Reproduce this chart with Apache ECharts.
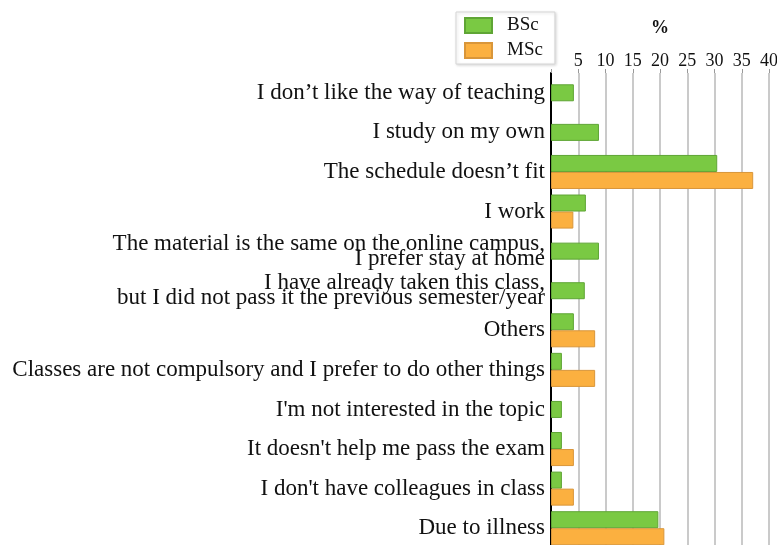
<!DOCTYPE html>
<html>
<head>
<meta charset="utf-8">
<script src="https://cdn.jsdelivr.net/npm/echarts@6/dist/echarts.min.js"></script>
<style>
	body { margin: 0; background: #fff; }
	#main { width: 777px; height: 545px; }
</style>
</head>
<body>
<div id="main"></div>
<script>
	// categories top to bottom
	var reasons = [
		'I don\u2019t like the way of teaching',
		'I study on my own',
		'The schedule doesn\u2019t fit',
		'I work',
		'The material is the same on the online campus,\nI prefer stay at home',
		'I have already taken this class,\nbut I did not pass it the previous semester/year',
		'Others',
		'Classes are not compulsory and I prefer to do other things',
		'I\'m not interested in the topic',
		'It doesn\'t help me pass the exam',
		'I don\'t have colleagues in class',
		'Due to illness'
	];
	var bsc = [4.2, 8.8, 30.5, 6.4, 8.8, 6.2, 4.2, 2.0, 2.0, 2.0, 2.0, 19.7];
	var msc = [null, null, 37.1, 4.1, null, null, 8.1, 8.1, null, 4.2, 4.2, 20.8];
	var xTicks = [5, 10, 15, 20, 25, 30, 35, 40];

	// rows with only BSc are drawn centred on a second (hidden) axis
	var bscPaired = [];
	var bscSingle = [];
	for (var i = 0; i < bsc.length; i++) {
		if (msc[i] == null) {
			bscPaired.push(null);
			bscSingle.push(bsc[i]);
		} else {
			bscPaired.push(bsc[i]);
			bscSingle.push(null);
		}
	}

	var green = '#7ac943';
	var orange = '#fbb040';
	var serif = '"Liberation Serif", "DejaVu Serif", serif';

	var option = {
		animation: false,
		textStyle: { fontFamily: serif },
		legend: {
			data: ['BSc', 'MSc'],
			orient: 'vertical',
			left: 456,
			top: 12,
			padding: [4, 12, 4, 8],
			itemGap: 6,
			itemWidth: 27,
			itemHeight: 15,
			icon: 'rect',
			borderColor: '#d6d6d6',
			borderWidth: 1,
			shadowColor: 'rgba(0,0,0,0.15)',
			shadowBlur: 3,
			shadowOffsetX: 1,
			shadowOffsetY: 1,
			backgroundColor: '#fff',
			textStyle: { fontFamily: serif, fontSize: 19, color: '#111', padding: [0, 0, 0, 10] }
		},
		grid: {
			left: 551,
			right: 8,
			top: 73,
			height: 475,
			outerBoundsMode: 'none'
		},
		xAxis: {
			type: 'value',
			position: 'top',
			min: 0,
			max: 40,
			interval: 5,
			name: '%',
			nameLocation: 'middle',
			nameGap: 36,
			nameTextStyle: { fontFamily: serif, fontSize: 18, fontWeight: 'bold', color: '#111' },
			axisLine: { show: false },
			axisTick: { show: true, length: 4, lineStyle: { color: '#999' } },
			axisLabel: {
				fontFamily: serif,
				fontSize: 18,
				color: '#111',
				margin: 3,
				formatter: function (v) {
					return xTicks.indexOf(v) >= 0 ? String(v) : '';
				}
			},
			splitLine: { show: true, lineStyle: { color: '#b8b8b8', width: 1.5 } }
		},
		yAxis: [{
			type: 'category',
			inverse: true,
			data: reasons,
			axisLine: { show: true, lineStyle: { color: '#000', width: 2 } },
			axisTick: { show: false },
			axisLabel: {
				fontFamily: serif,
				fontSize: 23,
				color: '#111',
				margin: 6,
				lineHeight: 15
			}
		}, {
			type: 'category',
			inverse: true,
			data: reasons,
			show: false
		}],
		series: [{
			name: 'BSc',
			type: 'bar',
			yAxisIndex: 0,
			data: bscPaired,
			barGap: '0%',
			barCategoryGap: '14%',
			itemStyle: { color: green, borderColor: '#5fa535', borderWidth: 1 }
		}, {
			name: 'MSc',
			type: 'bar',
			yAxisIndex: 0,
			data: msc,
			itemStyle: { color: orange, borderColor: '#d9963a', borderWidth: 1 }
		}, {
			name: 'BSc',
			type: 'bar',
			yAxisIndex: 1,
			data: bscSingle,
			barWidth: 17,
			itemStyle: { color: green, borderColor: '#5fa535', borderWidth: 1 }
		}]
	};

	var myChart = echarts.init(document.getElementById('main'));
	myChart.setOption(option);
</script>
</body>
</html>
